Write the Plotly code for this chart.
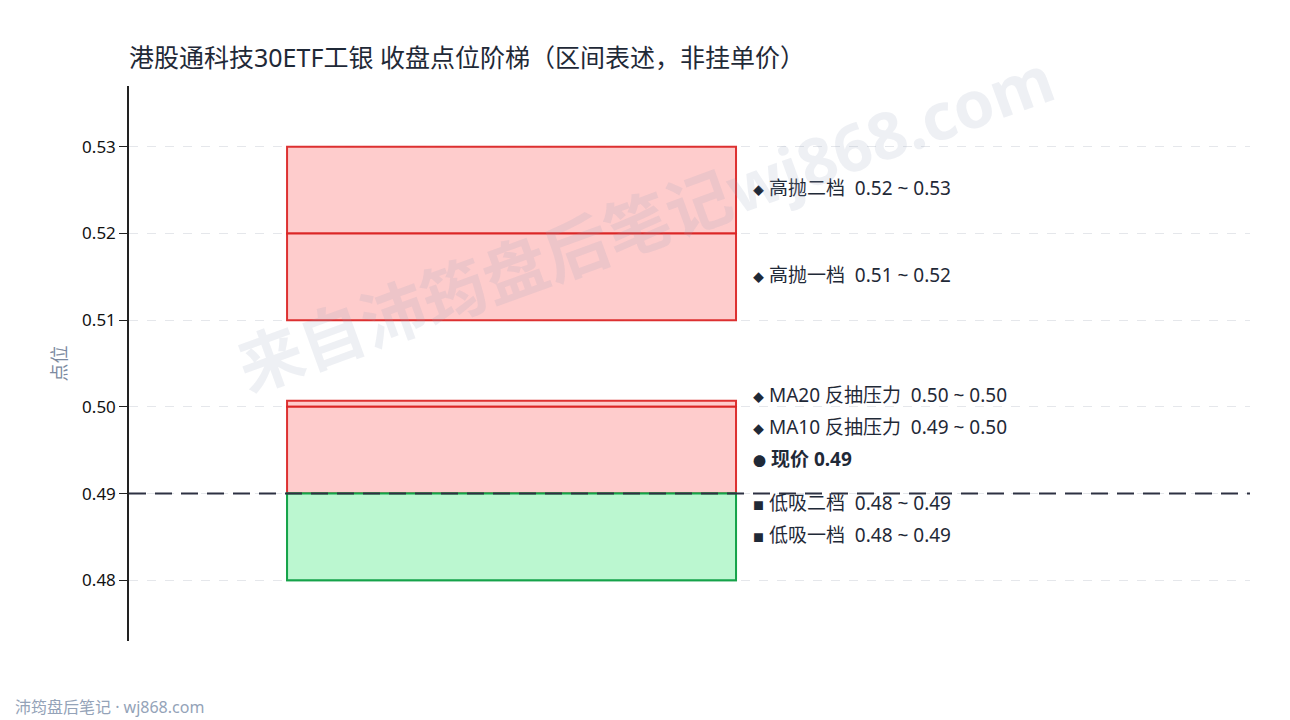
import plotly.graph_objects as go

# 区间数据
band_names = ["高抛二档", "高抛一档", "MA20 反抽压力", "MA10 反抽压力", "低吸二档", "低吸一档"]
band_low = [0.52, 0.51, 0.5000, 0.4900, 0.48, 0.48]
band_high = [0.53, 0.52, 0.5007, 0.5000, 0.49, 0.49]
band_kind = ["sell", "sell", "resist", "resist", "buy", "buy"]
current_price = 0.49

title = "港股通科技30ETF工银 收盘点位阶梯（区间表述，非挂单价）"
watermark = "来自沛筠盘后笔记wj868.com"
footer = "沛筠盘后笔记 · wj868.com"

FONT = "Noto Sans, Noto Sans CJK SC, sans-serif"
DARK = "#1f2937"
RED_LINE = "#dc2626"
RED_FILL = "#fecaca"
GREEN_LINE = "#16a34a"
GREEN_FILL = "#bbf7d0"

fig = go.Figure()
# invisible trace so axes exist
fig.add_trace(go.Scatter(x=[0, 1], y=[current_price, current_price], mode="lines",
                         line=dict(color="rgba(0,0,0,0)"), hoverinfo="skip", showlegend=False))

X0, X1 = 0.141, 0.5415
for lo, hi, kind in zip(band_low, band_high, band_kind):
    if kind == "buy":
        lc, fc = GREEN_LINE, GREEN_FILL
    else:
        lc, fc = RED_LINE, RED_FILL
    fig.add_shape(type="rect", xref="x", yref="y", x0=X0, x1=X1, y0=lo, y1=hi,
                  line=dict(color=lc, width=2), fillcolor=fc, layer="above", opacity=0.95)

# 现价虚线
fig.add_shape(type="line", xref="paper", yref="y", x0=0, x1=1, y0=current_price, y1=current_price,
              line=dict(color="#2d3142", width=2, dash="17px,9px"), layer="above")

# 标签（自下而上避让）
labels = []
for i, (name, lo, hi, kind) in enumerate(zip(band_names, band_low, band_high, band_kind)):
    mark = "■" if kind == "buy" else "◆"
    text = f"<span style='font-size:11px'>{mark}</span> {name}&nbsp;&nbsp;{lo:.2f} ~ {hi:.2f}"
    labels.append(((lo + hi) / 2, -i, text, 0.0037))
labels.append((current_price, 0, "<span style='font-size:13px'>●</span> <b>现价 %.2f</b>" % current_price, 0.005))
labels.sort(key=lambda t: (t[0], t[1]))
prev = None
for mid, _, text, gap in labels:
    pos = mid if prev is None else max(mid, prev + gap)
    prev = pos
    fig.add_annotation(x=0.555, y=pos, xref="x", yref="y", text=text, showarrow=False,
                       xanchor="left", yanchor="middle", yshift=2,
                       font=dict(size=19, color=DARK, family=FONT))

# 水印
fig.add_annotation(x=0.46, y=0.755, xref="paper", yref="paper", text="<b>" + watermark + "</b>",
                   showarrow=False, textangle=-20, xanchor="center", yanchor="middle",
                   font=dict(size=65, color="rgba(148,163,184,0.16)", family=FONT))

# 页脚
fig.add_annotation(x=-0.1035, y=-0.119, xref="paper", yref="paper", text=footer, showarrow=False,
                   xanchor="left", yanchor="middle",
                   font=dict(size=16, color="#94a3b8", family=FONT))

# 浏览器 body 默认 8px 外边距，这里把边距减掉 8px
fig.update_layout(
    width=1290, height=720,
    margin=dict(l=121, r=48, t=78, b=87, autoexpand=False),
    paper_bgcolor="white", plot_bgcolor="white",
    title=dict(text=title, x=121 / 1290, xanchor="left", y=0.93, yanchor="middle",
               font=dict(size=25, color=DARK, family=FONT)),
    showlegend=False,
    font=dict(family=FONT),
)
fig.update_xaxes(range=[0, 1], visible=False, fixedrange=True)
fig.update_yaxes(range=[0.473, 0.537], tickvals=[0.48, 0.49, 0.50, 0.51, 0.52, 0.53], tickformat=".2f",
                 showline=True, linecolor="#222", linewidth=1.5, ticks="outside", ticklen=8,
                 tickcolor="#222", tickfont=dict(size=17, color="#111", family=FONT),
                 showgrid=True, gridcolor="#e5e7eb", griddash="dash", gridwidth=1, zeroline=False,
                 automargin=False,
                 title=dict(text="点位", font=dict(size=18, color="#7c8aa0", family=FONT), standoff=11))

fig.write_html("out.html")
